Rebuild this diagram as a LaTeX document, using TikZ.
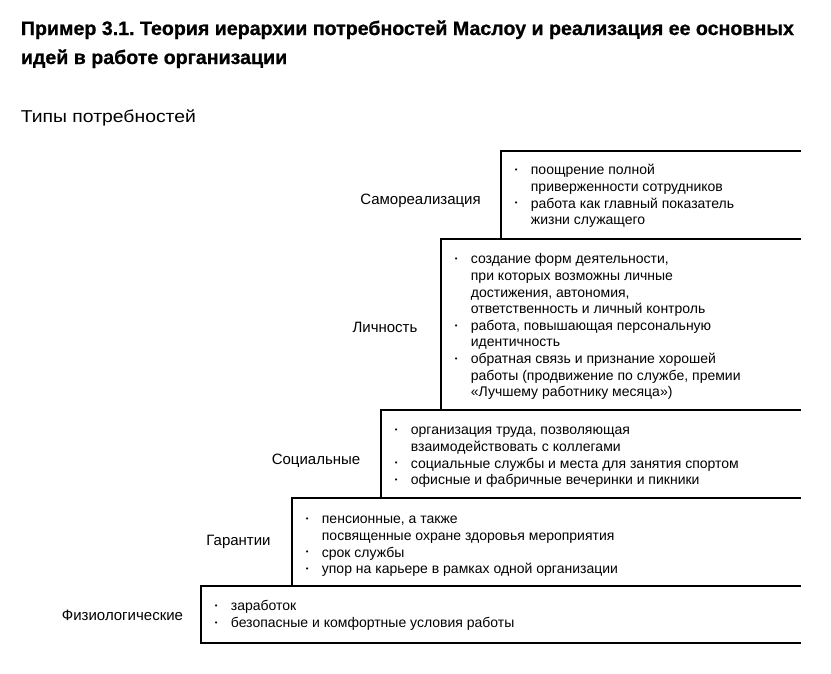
\documentclass[tikz,border=0pt]{standalone}
\usepackage{fontspec}
\setmainfont{Liberation Sans}
\frenchspacing
\newlength{\tlw}
\newlength{\slw}
\newcommand{\titlefont}{\bfseries\fontsize{19.5}{29}\selectfont\addfontfeature{FakeBold=0.8}}
\newcommand{\subfont}{\fontsize{17.2}{20}\selectfont}
\newcommand{\bodyfont}{\fontsize{14}{16.6}\selectfont}
\newcommand{\lblfont}{\fontsize{15}{16.6}\selectfont}
\newcommand{\bi}{\makebox[17pt][l]{\hspace*{1pt}\raisebox{0.3ex}{\scalebox{0.55}{•}}}}
\newcommand{\ci}{\hspace*{17pt}}
\begin{document}
\settowidth{\tlw}{\titlefont Пример 3.1. Теория иерархии потребностей Маслоу и реализация ее основных}
\pgfmathsetmacro{\tf}{773/\tlw}
\settowidth{\slw}{\subfont Типы потребностей}
\pgfmathsetmacro{\sf}{175/\slw}
\begin{tikzpicture}[x=1pt,y=-1pt,line width=1.8pt,
  lbl/.style={font=\lblfont,anchor=base,inner sep=0pt},
  itm/.style={font=\bodyfont,anchor=north west,inner sep=0pt,align=left},
  ttl/.style={font=\titlefont,anchor=base west,inner sep=0pt},
  stair/.style={line width=1.8pt,line cap=rect}]
\useasboundingbox (0,0) rectangle (831,673);
% titles
\node[ttl] (t1) at (20,35) {\scalebox{\tf}[1]{Пример 3.1. Теория иерархии потребностей Маслоу и реализация ее основных}};
\node[ttl] (t2) at (20,64) {\scalebox{\tf}[1]{идей в работе организации}};
\node[font=\subfont,anchor=base west,inner sep=0pt] (t3) at (20,122) {\scalebox{\sf}[1]{Типы потребностей}};
% step corners
\coordinate (r) at (800,0);
\coordinate (s5) at (501,151);
\coordinate (s4) at (441,239);
\coordinate (s3) at (381,410);
\coordinate (s2) at (292,498);
\coordinate (s1) at (201,586);
\coordinate (b1) at (201,643);
\draw[stair] (s5 |- s4) -- (s5) -- (s5 -| r);
\draw[stair] (s4 |- s3) -- (s4) -- (s4 -| r);
\draw[stair] (s3 |- s2) -- (s3) -- (s3 -| r);
\draw[stair] (s2 |- s1) -- (s2) -- (s2 -| r);
\draw[stair] (b1) -- (s1) -- (s1 -| r);
\draw[stair] (b1) -- (b1 -| r);
% labels
\node[lbl] (l5) at (420.5,204) {Самореализация};
\node[lbl] (l4) at (385,332) {Личность};
\node[lbl] (l3) at (316,464) {Социальные};
\node[lbl] (l2) at (238.5,545) {Гарантии};
\node[lbl] (l1) at (122.5,620) {Физиологические};
% items
\node[itm] (i5) at (513,162.4) {\strut\bi поощрение полной\\\ci приверженности сотрудников\\\bi работа как главный показатель\\\ci жизни служащего};
\node[itm] (i4) at (453,251.4) {\strut\bi создание форм деятельности,\\\ci при которых возможны личные\\\ci достижения, автономия,\\\ci ответственность и личный контроль\\\bi работа, повышающая персональную\\\ci идентичность\\\bi обратная связь и признание хорошей\\\ci работы (продвижение по службе, премии\\\ci «Лучшему работнику месяца»)};
\node[itm] (i3) at (393,422.4) {\strut\bi организация труда, позволяющая\\\ci взаимодействовать с коллегами\\\bi социальные службы и места для занятия спортом\\\bi офисные и фабричные вечеринки и пикники};
\node[itm] (i2) at (304,511.4) {\strut\bi пенсионные, а также\\\ci посвященные охране здоровья мероприятия\\\bi срок службы\\\bi упор на карьере в рамках одной организации};
\node[itm] (i1) at (213,598.4) {\strut\bi заработок\\\bi безопасные и комфортные условия работы};
\end{tikzpicture}
\end{document}
